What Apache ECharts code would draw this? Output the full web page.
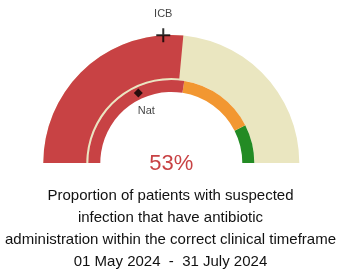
<!DOCTYPE html>
<html>
<head>
<meta charset="utf-8">
<script src="https://cdn.jsdelivr.net/npm/echarts@6/dist/echarts.min.js"></script>
<style>
  html, body { margin: 0; padding: 0; background: #fff; }
  #chart { width: 341px; height: 274px; }
</style>
</head>
<body>
<div id="chart"></div>
<script>
// gauge value (percent)
const gaugeValue = 53;
// inner band thresholds and colours
const bandStops = [55, 85, 100];
const bandColors = ['#c84244', '#f29731', '#238b24'];
// benchmark markers
const markerNames = ['ICB', 'Nat'];
const markerValues = [48, 36];
const titleLines = [
  'Proportion of patients with suspected',
  'infection that have antibiotic',
  'administration within the correct clinical timeframe',
  '01 May 2024  -  31 July 2024'
];

const RED = '#c84244';
const BEIGE = '#eae6c0';
const FONT = '"Liberation Sans", Arial, sans-serif';
const center = [171.3, 163];

const hideParts = {
  pointer: { show: false },
  axisTick: { show: false },
  splitLine: { show: false },
  axisLabel: { show: false },
  anchor: { show: false },
  title: { show: false }
};

const chart = echarts.init(document.getElementById('chart'));

const option = {
  animation: false,
  title: {
    text: titleLines.join('\n'),
    left: 'center',
    top: 185,
    padding: 0,
    textStyle: {
      fontFamily: FONT,
      fontSize: 15,
      fontWeight: 'normal',
      lineHeight: 22,
      color: '#111'
    }
  },
  polar: { center: center, radius: 128 },
  angleAxis: { type: 'value', min: 0, max: 200, startAngle: 180, clockwise: true, show: false },
  radiusAxis: { type: 'value', min: 0, max: 128, show: false },
  series: [
    {
      type: 'gauge',
      center: center,
      radius: 128,
      startAngle: 180,
      endAngle: 0,
      min: 0,
      max: 100,
      axisLine: { lineStyle: { width: 45, color: [[1, BEIGE]] } },
      progress: { show: true, width: 43, itemStyle: { color: RED } },
      ...hideParts,
      detail: {
        offsetCenter: [0, 1],
        fontFamily: FONT,
        fontSize: 22,
        fontWeight: 'normal',
        color: RED,
        formatter: '{value}%'
      },
      data: [{ value: gaugeValue }]
    },
    {
      type: 'gauge',
      center: center,
      radius: 83,
      startAngle: 180,
      endAngle: 0,
      min: 0,
      max: 100,
      axisLine: {
        lineStyle: {
          width: 12,
          color: bandStops.map((s, i) => [s / 100, bandColors[i]])
        }
      },
      ...hideParts,
      detail: { show: false },
      data: [{ value: 0 }]
    },
    {
      type: 'scatter',
      coordinateSystem: 'polar',
      z: 10,
      data: [
        {
          name: markerNames[0],
          value: [128, markerValues[0]],
          symbol: 'path://M-1,-7L1,-7L1,-1L7,-1L7,1L1,1L1,7L-1,7L-1,1L-7,1L-7,-1L-1,-1Z',
          symbolSize: 14,
          label: { show: true, position: 'top', distance: 9 }
        },
        {
          name: markerNames[1],
          value: [77.5, markerValues[1]],
          symbol: 'diamond',
          symbolSize: 9,
          label: { show: true, position: 'bottom', distance: 8, offset: [8, 0] }
        }
      ],
      itemStyle: { color: '#000' },
      label: {
        formatter: '{b}',
        fontFamily: FONT,
        fontSize: 11,
        color: '#111'
      }
    }
  ]
};

chart.setOption(option);
</script>
</body>
</html>
